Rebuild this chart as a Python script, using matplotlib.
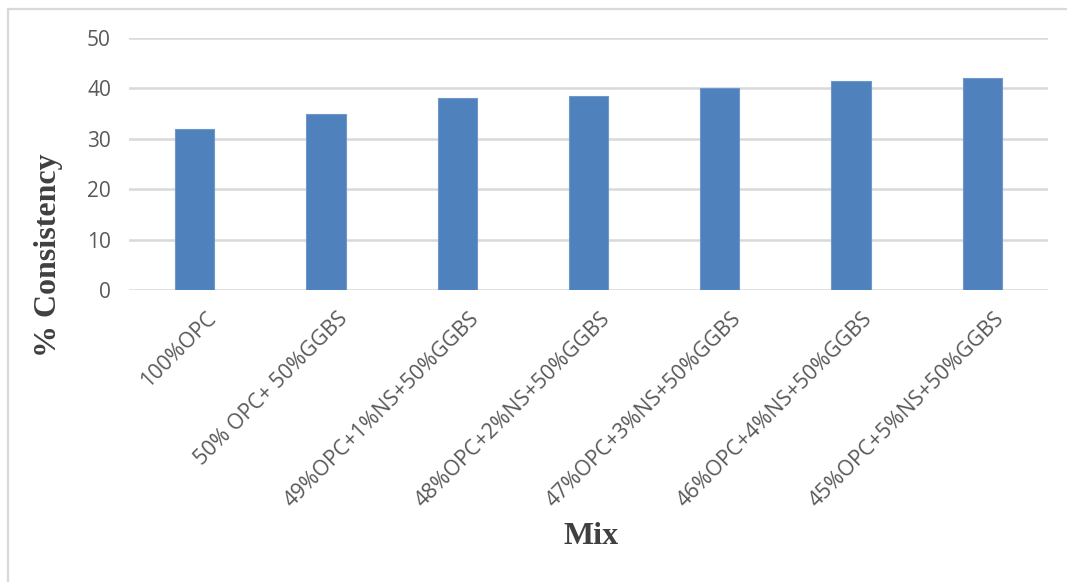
import matplotlib
matplotlib.use("Agg")
import matplotlib.pyplot as plt
import matplotlib.transforms as mtransforms
from matplotlib.lines import Line2D
import numpy as np

# Data
mixes = [
    "100%OPC",
    "50% OPC+ 50%GGBS",
    "49%OPC+1%NS+50%GGBS",
    "48%OPC+2%NS+50%GGBS",
    "47%OPC+3%NS+50%GGBS",
    "46%OPC+4%NS+50%GGBS",
    "45%OPC+5%NS+50%GGBS",
]
consistency = [32, 35, 38, 38.5, 40, 41.5, 42]
yticks = [0, 10, 20, 30, 40, 50]

W, H = 1067, 582
fig = plt.figure(figsize=(W / 100, H / 100), dpi=100)
ax = fig.add_axes([129 / W, 1 - 290 / H, (1048 - 129) / W, (290 - 38) / H])

x = np.arange(len(mixes))
ax.bar(x, consistency, width=0.3, color="#4f81bd", edgecolor="#6f97c9",
       linewidth=0.8, zorder=3)

ax.set_xlim(-0.5, len(mixes) - 0.5)
ax.set_ylim(0, 50)
ax.set_yticks(yticks)
ax.yaxis.grid(True, color="#d9d9d9", linewidth=1.8, zorder=0)
ax.set_axisbelow(True)
for s in ax.spines.values():
    s.set_visible(False)
ax.tick_params(axis="both", length=0)
ax.tick_params(axis="y", pad=13, labelsize=15, labelcolor="#595959")
for lab in ax.get_yticklabels():
    lab.set_fontfamily("Open Sans")

ax.set_xticks(x)
ax.set_xticklabels(mixes, rotation=45, ha="right", va="top",
                   rotation_mode="anchor", fontsize=15.4, color="#595959",
                   family="Open Sans")
offset = mtransforms.ScaledTranslation(11 / 100, -13 / 100, fig.dpi_scale_trans)
for lab in ax.get_xticklabels():
    lab.set_transform(lab.get_transform() + offset)

fig.text(49 / W, 1 - 255 / H, "% Consistency", rotation=90, ha="center",
         va="center", fontsize=23, fontweight="bold",
         family="Liberation Serif", color="#404040")
fig.text(591 / W, 1 - 536 / H, "Mix", ha="center", va="center",
         fontsize=23, fontweight="bold", family="Liberation Serif",
         color="#404040")

# outer frame (cropped on right and bottom)
fig.add_artist(Line2D([8 / W, 8 / W], [0, 1 - 9 / H], color="#d9d9d9",
                      linewidth=1.6, transform=fig.transFigure))
fig.add_artist(Line2D([8 / W, 1], [1 - 9 / H, 1 - 9 / H], color="#d9d9d9",
                      linewidth=1.6, transform=fig.transFigure))

fig.savefig("out.png", dpi=100)
